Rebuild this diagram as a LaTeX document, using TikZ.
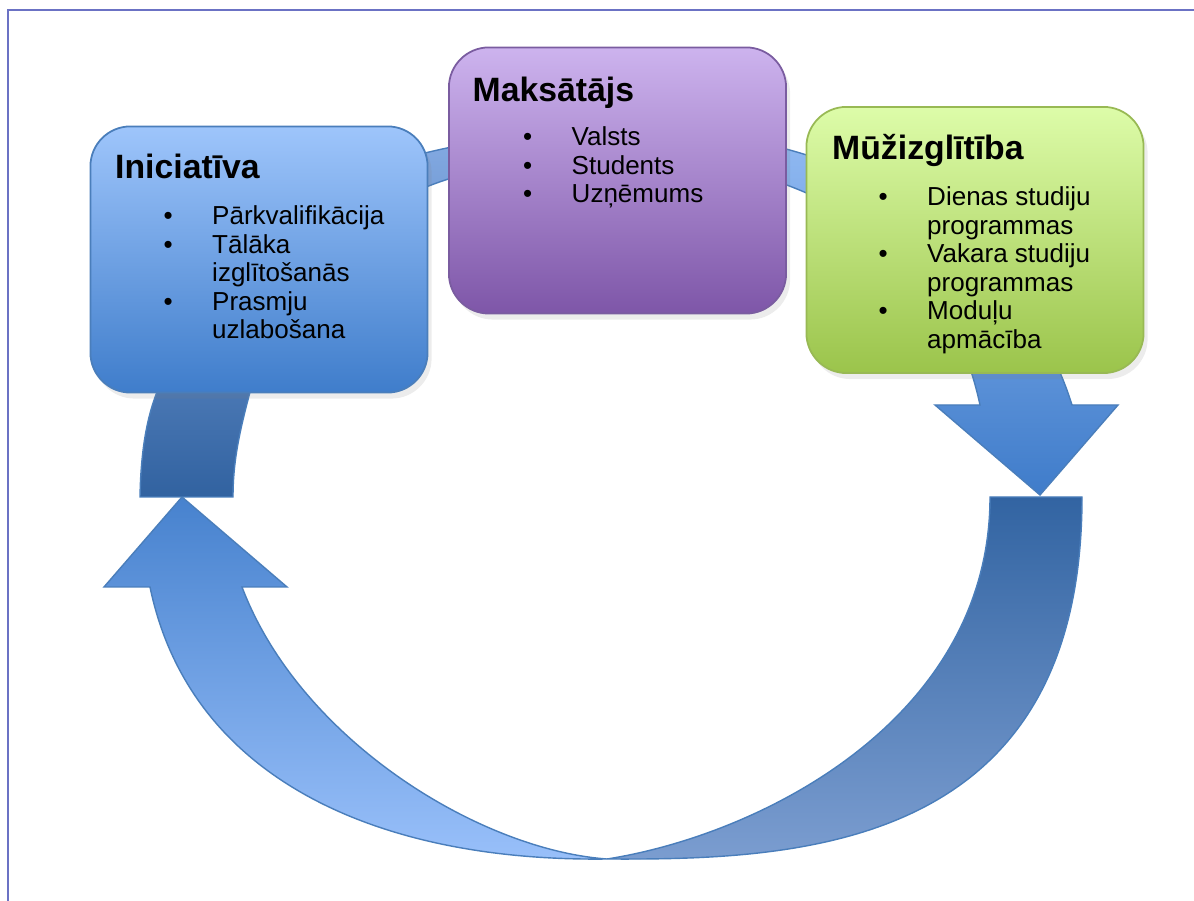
\documentclass[tikz,border=0pt]{standalone}
\usepackage{fontspec}
\setmainfont{Liberation Sans}
\usetikzlibrary{shadows}

\definecolor{frameblue}{HTML}{6B72C4}
\definecolor{bandline}{HTML}{4A7EBB}
\definecolor{inittop}{HTML}{9EC5FB}
\definecolor{initmid}{HTML}{79A8EB}
\definecolor{initbot}{HTML}{3F7DCB}
\definecolor{payertop}{HTML}{CDB3EE}
\definecolor{payermid}{HTML}{AC8ED4}
\definecolor{payerbot}{HTML}{7E56A8}
\definecolor{payerline}{HTML}{7A5CA0}
\definecolor{lifetop}{HTML}{DDFCA9}
\definecolor{lifemid}{HTML}{C3E683}
\definecolor{lifebot}{HTML}{9BC44B}
\definecolor{lifeline}{HTML}{98B954}
\definecolor{lowrtop}{HTML}{3264A2}
\definecolor{lowrbot}{HTML}{7B9DD0}
\definecolor{lowltop}{HTML}{4782CE}
\definecolor{lowlbot}{HTML}{99C0FA}
\definecolor{upltop}{HTML}{86ACE4}
\definecolor{uplmid}{HTML}{4C7AB9}
\definecolor{uplbot}{HTML}{3162A0}
\definecolor{uprtop}{HTML}{93BBF3}
\definecolor{uprmid}{HTML}{6E9FE2}
\definecolor{uprbot}{HTML}{3F7CCA}

\newcommand{\lmark}{\llap{\textbullet\hspace{11.2pt}}}

\begin{document}
\begin{tikzpicture}[x=0.01cm, y=-0.01cm,
    stage/.style = {rectangle, rounded corners=0.4cm, line width=0.5pt,
                    minimum width=3.37cm, minimum height=2.66cm,
                    drop shadow={shadow xshift=0.4mm, shadow yshift=-0.6mm, opacity=0.15}},
    title/.style = {anchor=base west, inner sep=0, font=\fontsize{9.6}{11}\selectfont\bfseries},
    items/.style = {anchor=base west, inner sep=0, align=left, font=\fontsize{7.4}{8.1}\selectfont},
    band/.style = {draw=bandline, line width=0.4pt}]
  \useasboundingbox (0, 0) rectangle (1194, 901);

  % Frame.
  \draw [frameblue, line width=0.6pt] (8, 901) -- (8, 10) -- (1194, 10);

  % Lower arrow, from the right back up to the left.
  \draw [band, top color=lowrtop, bottom color=lowrbot]
        (1082, 497) .. controls (1082, 850) and (800, 860) .. (607, 859)
        .. controls (760, 835) and (990, 720) .. (990, 497) -- cycle;
  \draw [band, top color=lowltop, bottom color=lowlbot]
        (607, 859) .. controls (380, 862) and (190, 780) .. (150, 587)
        -- (104, 587) -- (182, 497) -- (287, 587) -- (242, 587)
        .. controls (300, 740) and (480, 850) .. (607, 859) -- cycle;

  % Upper arrow, behind the three boxes.
  \draw [band, top color=upltop, middle color=uplmid, bottom color=uplbot]
        (140, 497) .. controls (141, 440) and (150, 410) .. (157, 392)
        .. controls (172, 240) and (330, 140) .. (615, 128) -- (615, 158)
        .. controls (400, 150) and (270, 260) .. (250, 392)
        .. controls (240, 430) and (233, 460) .. (233, 497) -- cycle;
  \draw [band, top color=uprtop, middle color=uprmid, bottom color=uprbot]
        (615, 128) .. controls (900, 128) and (1032, 277) .. (1072, 405)
        -- (1118, 405) -- (1040, 495) -- (935, 405) -- (980, 405)
        .. controls (945, 240) and (800, 155) .. (615, 158) -- cycle;

  % Boxes.
  \node at (259, 259.5) [stage, draw=bandline, top color=inittop, middle color=initmid,
                         bottom color=initbot, name=Initiative] {};
  \node at (617.5, 180.5) [stage, draw=payerline, top color=payertop, middle color=payermid,
                           bottom color=payerbot, name=Payer] {};
  \node at (975, 240) [stage, draw=lifeline, top color=lifetop, middle color=lifemid,
                       bottom color=lifebot, name=Lifelong] {};

  % Texts (a list node sits on the baseline of its last line).
  \node at ([shift={(25, 53)}]Initiative.north west) [title, name=InitiativeTitle] {Iniciatīva};
  \node at ([shift={(122, 213)}]Initiative.north west) [items, name=InitiativeList]
        {\lmark Pārkvalifikācija\\\lmark Tālāka\\izglītošanās\\\lmark Prasmju\\uzlabošana};

  \node at ([shift={(24, 55)}]Payer.north west) [title, name=PayerTitle] {Maksātājs};
  \node at ([shift={(123, 156)}]Payer.north west) [items, name=PayerList]
        {\lmark Valsts\\\lmark Students\\\lmark Uzņēmums};

  \node at ([shift={(26, 53)}]Lifelong.north west) [title, name=LifelongTitle] {Mūžizglītība};
  \node at ([shift={(121, 242)}]Lifelong.north west) [items, name=LifelongList]
        {\lmark Dienas studiju\\programmas\\\lmark Vakara studiju\\programmas\\\lmark Moduļu\\apmācība};
\end{tikzpicture}
\end{document}
